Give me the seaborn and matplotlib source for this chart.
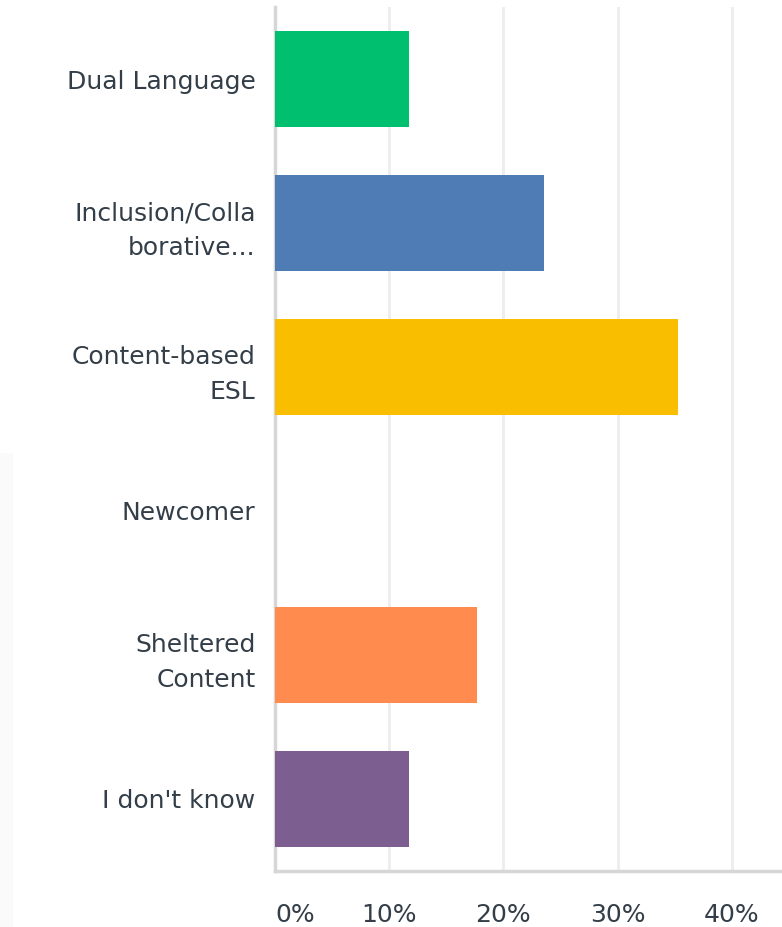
import matplotlib
matplotlib.use("Agg")
import matplotlib.pyplot as plt
import seaborn as sns
import pandas as pd
from matplotlib.patches import Rectangle

categories = ["Dual Language", "Inclusion/Colla\nborative...", "Content-based\nESL",
              "Newcomer", "Sheltered\nContent", "I don't know"]
values = [11.76, 23.53, 35.29, 0.0, 17.65, 11.76]
colors = ["#00BF6F", "#507CB6", "#F9BE00", "#6BC8CD", "#FF8B4F", "#7D5E90"]
xticks = [0, 10, 20, 30, 40]
xtick_labels = ["0%", "10%", "20%", "30%", "40%"]

sns.set_theme(style="white")
plt.rcParams['font.family'] = ['DejaVu Sans']

df = pd.DataFrame({"category": categories, "value": values})

fig = plt.figure(figsize=(7.82, 9.27), dpi=100)
fig.patches.append(Rectangle((0, 0), 13 / 782, (927 - 453) / 927, transform=fig.transFigure,
                             facecolor="#fafafa", edgecolor="none", zorder=0))
ax = fig.add_axes([275 / 782, 56 / 927, 1 - 275 / 782, 864 / 927])

sns.barplot(data=df, y="category", x="value", hue="category",
            palette=dict(zip(categories, colors)), orient="h",
            width=0.66, legend=False, ax=ax, saturation=1, zorder=3, linewidth=0)

ax.set_xlim(0, 44.4)
ax.set_ylim(5.5, -0.5)
ax.set_xticks(xticks)
ax.set_xticklabels(xtick_labels)
ax.xaxis.grid(True, color="#ededed", linewidth=2.0, zorder=0)
ax.yaxis.grid(False)
ax.set_axisbelow(True)
ax.set_xlabel("")
ax.set_ylabel("")

for s in ["top", "right"]:
    ax.spines[s].set_visible(False)
for s in ["left", "bottom"]:
    ax.spines[s].set_color("#d6d6d6")
    ax.spines[s].set_linewidth(2.5)

ax.tick_params(axis="x", length=0, pad=23, labelsize=18, labelcolor="#333e48")
ax.tick_params(axis="y", length=0, pad=14, labelsize=18, labelcolor="#333e48")
for t in ax.get_yticklabels():
    t.set_linespacing(1.55)
lbls = ax.get_xticklabels()
lbls[0].set_horizontalalignment("left")

fig.savefig("out.png", dpi=100)
